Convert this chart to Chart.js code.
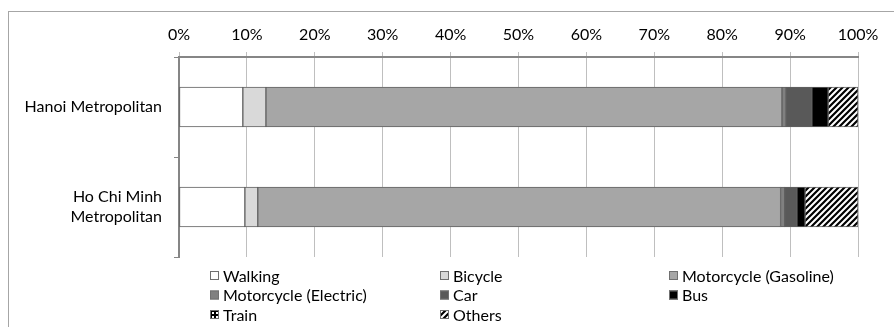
<!DOCTYPE html>
<html>
<head>
<meta charset="utf-8">
<script src="https://cdn.jsdelivr.net/npm/chart.js@4/dist/chart.umd.min.js"></script>
<style>
  html, body { margin: 0; padding: 0; background: #fff; }
  #wrap { position: relative; width: 894px; height: 327px; }
</style>
</head>
<body>
<div id="wrap"><canvas id="c" width="894" height="327"></canvas></div>
<script>
// Modal share of trips (%) in the two metropolitan areas
const categories = ['Hanoi Metropolitan', ['Ho Chi Minh', 'Metropolitan']];
const modes = ['Walking', 'Bicycle', 'Motorcycle (Gasoline)', 'Motorcycle (Electric)', 'Car', 'Bus', 'Train', 'Others'];
const walking     = [9.4, 9.7];
const bicycle     = [3.4, 1.9];
const motoGas     = [76.0, 77.0];
const motoElec    = [0.6, 0.6];
const car         = [3.8, 1.8];
const bus         = [2.4, 1.2];
const train       = [0, 0];
const others      = [4.4, 7.8];
const tickValues  = [0, 10, 20, 30, 40, 50, 60, 70, 80, 90, 100];

const FONT = 'Lato, "Open Sans", sans-serif';

function makePattern(size, draw) {
  const p = document.createElement('canvas');
  p.width = size; p.height = size;
  const g = p.getContext('2d');
  draw(g, size);
  return document.getElementById('c').getContext('2d').createPattern(p, 'repeat');
}

// Diagonal hatch (/) for "Others"
const hatch = makePattern(6, (g, s) => {
  g.fillStyle = '#fff'; g.fillRect(0, 0, s, s);
  g.strokeStyle = '#000'; g.lineWidth = 2.2;
  g.beginPath();
  g.moveTo(-s, s * 2); g.lineTo(s * 2, -s);
  g.moveTo(-s * 2, s * 2); g.lineTo(s, -s);
  g.moveTo(0, s * 2); g.lineTo(s * 3, -s);
  g.stroke();
});
// Checker for "Train"
const checker = makePattern(4, (g, s) => {
  g.fillStyle = '#000'; g.fillRect(0, 0, s, s);
  g.fillStyle = '#fff'; g.fillRect(0, 0, 2, 2);
});

const seriesValues = [walking, bicycle, motoGas, motoElec, car, bus, train, others];
const fills = ['#ffffff', '#d9d9d9', '#a6a6a6', '#808080', '#595959', '#000000', checker, hatch];

const datasets = modes.map((m, i) => ({
  label: m,
  data: seriesValues[i],
  backgroundColor: fills[i],
  borderColor: '#606060',
  borderWidth: 1,
  borderSkipped: false,
  barThickness: 40
}));

// Frame around the whole chart
const framePlugin = {
  id: 'frame',
  beforeDraw(chart) {
    const ctx = chart.ctx;
    ctx.save();
    ctx.fillStyle = '#fff';
    ctx.fillRect(0, 0, chart.width, chart.height);
    ctx.strokeStyle = '#a6a6a6';
    ctx.lineWidth = 1;
    ctx.strokeRect(8.5, 11.5, 1000, 1000);
    ctx.restore();
  }
};

// Three-column legend under the plot
const gridLegend = {
  id: 'gridLegend',
  afterDraw(chart) {
    const ctx = chart.ctx;
    const colX = [210, 440, 669];
    const rowY = [275.5, 295, 314.5];
    const box = 9;
    ctx.save();
    ctx.font = '16px ' + FONT;
    ctx.textBaseline = 'middle';
    chart.data.datasets.forEach((ds, i) => {
      const x = colX[i % 3];
      const y = rowY[Math.floor(i / 3)];
      ctx.fillStyle = ds.backgroundColor;
      ctx.fillRect(x, y - box / 2, box, box);
      ctx.strokeStyle = '#707070';
      ctx.lineWidth = 1;
      ctx.strokeRect(x + 0.5, y - box / 2 + 0.5, box - 1, box - 1);
      ctx.fillStyle = '#000';
      ctx.fillText(ds.label, x + 13, y + 1);
    });
    ctx.restore();
  }
};

new Chart(document.getElementById('c'), {
  type: 'bar',
  data: { labels: categories, datasets },
  plugins: [framePlugin, gridLegend],
  options: {
    indexAxis: 'y',
    responsive: false,
    animation: false,
    layout: { padding: { left: 0, right: 36, top: 0, bottom: 70 } },
    plugins: { legend: { display: false }, tooltip: { enabled: false } },
    scales: {
      x: {
        position: 'top',
        stacked: true,
        min: 0, max: 100,
        afterBuildTicks: s => { s.ticks = tickValues.map(v => ({ value: v })); },
        afterFit: s => { s.height = 57; },
        ticks: {
          callback: v => v + '%',
          color: '#000',
          font: { family: FONT, size: 16 },
          padding: 8,
          maxRotation: 0
        },
        grid: { color: '#bfbfbf', lineWidth: 1, tickLength: 5 },
        border: { color: '#868686', width: 2 }
      },
      y: {
        stacked: true,
        afterFit: s => { s.width = 179; },
        ticks: {
          color: '#000',
          font: { family: FONT, size: 16, lineHeight: 1.25 },
          padding: 12
        },
        grid: { offset: true, drawOnChartArea: false, color: '#868686', tickLength: 5 },
        border: { color: '#868686', width: 2 }
      }
    }
  }
});
</script>
</body>
</html>
